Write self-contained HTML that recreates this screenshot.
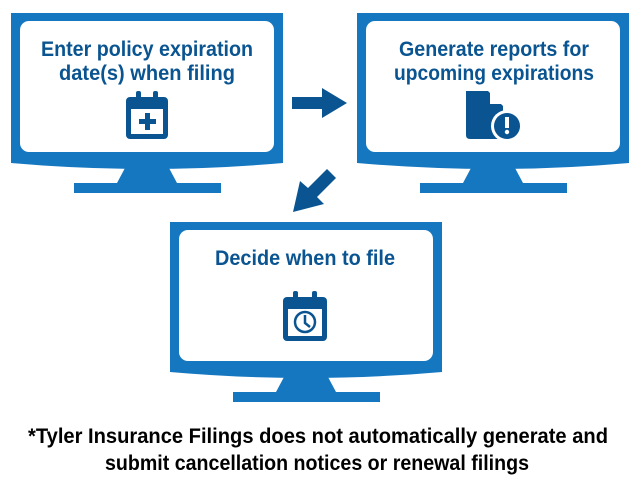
<!DOCTYPE html>
<html><head><meta charset="utf-8"><style>
html,body{margin:0;padding:0;background:#fff;}
svg{display:block;}
text{font-family:"Liberation Sans Narrow","Liberation Sans",sans-serif;font-weight:bold;fill:#0a5591;}
</style></head><body>
<svg width="641" height="481" viewBox="0 0 641 481" xmlns="http://www.w3.org/2000/svg">
<defs>
<g id="mon">
  <path d="M0 0 H272 V150 Q136 162 0 150 Z" fill="#1577c0"/>
  <rect x="9" y="8" width="254" height="131" rx="9" fill="#fff"/>
  <path d="M114 155 H158 L166 170 H106 Z" fill="#1577c0"/>
  <rect x="63" y="170" width="147" height="10" fill="#1577c0"/>
</g>
</defs>
<use href="#mon" x="11" y="13"/>
<use href="#mon" x="357" y="13"/>
<use href="#mon" x="170" y="222"/>

<text x="147" y="56" font-size="21" text-anchor="middle" textLength="212" lengthAdjust="spacingAndGlyphs">Enter policy expiration</text>
<text x="147" y="80" font-size="21" text-anchor="middle" textLength="176" lengthAdjust="spacingAndGlyphs">date(s) when filing</text>
<text x="494" y="56" font-size="21" text-anchor="middle" textLength="190" lengthAdjust="spacingAndGlyphs">Generate reports for</text>
<text x="494" y="80" font-size="21" text-anchor="middle" textLength="200" lengthAdjust="spacingAndGlyphs">upcoming expirations</text>
<text x="305" y="265" font-size="21" text-anchor="middle" textLength="180" lengthAdjust="spacingAndGlyphs">Decide when to file</text>

<!-- calendar plus -->
<rect x="126" y="97" width="42" height="42" rx="4" fill="#0a5591"/>
<rect x="131" y="109" width="32" height="25" fill="#fff"/>
<rect x="136" y="91" width="5" height="10" rx="2" fill="#0a5591"/>
<rect x="153" y="91" width="5" height="10" rx="2" fill="#0a5591"/>
<rect x="145" y="113" width="5" height="17" fill="#0a5591"/>
<rect x="139" y="119" width="17" height="5" fill="#0a5591"/>

<!-- document alert -->
<path d="M466 91 H488 L503 106 V139 H470 Q466 139 466 135 Z" fill="#0a5591"/>
<path d="M490 91 L503 104 H490 Z" fill="#fff"/>
<circle cx="507" cy="126" r="16" fill="#fff"/>
<circle cx="507" cy="126" r="13" fill="#0a5591"/>
<rect x="505" y="117" width="4" height="11" fill="#fff"/>
<circle cx="507" cy="132" r="2.2" fill="#fff"/>

<!-- calendar clock -->
<rect x="283" y="297" width="44" height="44" rx="4" fill="#0a5591"/>
<rect x="288" y="309" width="34" height="27" fill="#fff"/>
<rect x="293" y="291" width="5" height="10" rx="2" fill="#0a5591"/>
<rect x="312" y="291" width="5" height="10" rx="2" fill="#0a5591"/>
<circle cx="305" cy="322" r="10" fill="none" stroke="#0a5591" stroke-width="2.5"/>
<path d="M305 315 V323 L310 327" fill="none" stroke="#0a5591" stroke-width="2.5"/>

<!-- arrows -->
<path d="M292 97 H322 V88 L347 103 L322 118 V109 H292 Z" fill="#0a5591"/>
<path d="M327 169 L336 178 L317 197 L324 204 L293 212 L300 181 L308 188 Z" fill="#0a5591"/>

<text x="318" y="443" font-size="21" fill="#000" style="fill:#000" text-anchor="middle" textLength="580" lengthAdjust="spacingAndGlyphs">*Tyler Insurance Filings does not automatically generate and</text>
<text x="317" y="470" font-size="21" style="fill:#000" text-anchor="middle" textLength="424" lengthAdjust="spacingAndGlyphs">submit cancellation notices or renewal filings</text>
</svg>
</body></html>
